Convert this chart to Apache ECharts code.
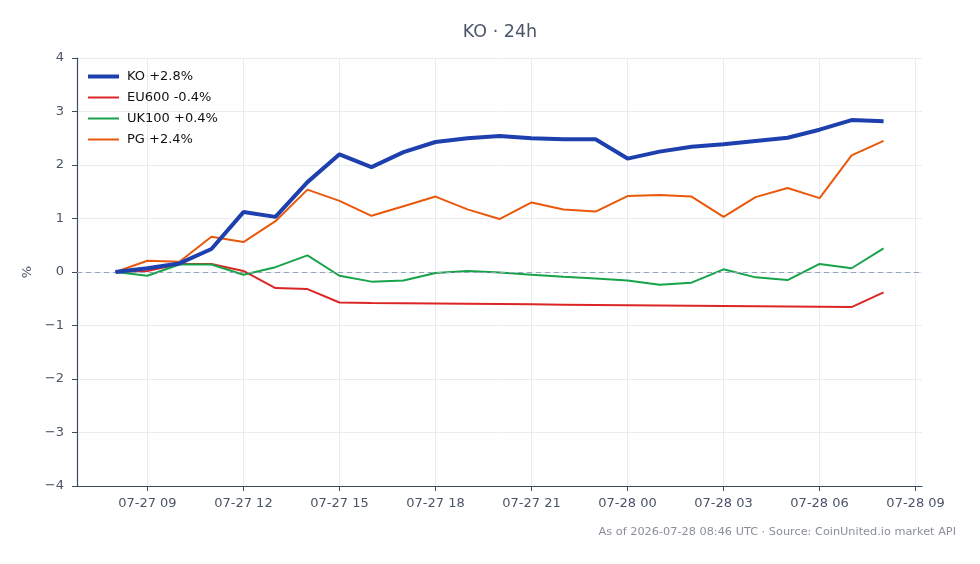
<!DOCTYPE html>
<html>
<head>
<meta charset="utf-8">
<script src="https://cdn.jsdelivr.net/npm/echarts@6/dist/echarts.min.js"></script>
<style>
  html, body { margin: 0; padding: 0; background: #fff; }
  #chart { width: 980px; height: 564px; }
</style>
</head>
<body>
<div id="chart"></div>
<script>
  // hourly points, 07-27 08:00 .. 07-28 08:00 UTC (hours counted from 07-27 00:00)
  const hours = [8, 9, 10, 11, 12, 13, 14, 15, 16, 17, 18, 19, 20, 21, 22, 23, 24, 25, 26, 27, 28, 29, 30, 31, 32];
  const tickHours = [9, 12, 15, 18, 21, 24, 27, 30, 33];

  const ko    = [0, 0.07, 0.16, 0.43, 1.12, 1.03, 1.68, 2.20, 1.96, 2.24, 2.43, 2.50, 2.54, 2.50, 2.48, 2.48, 2.12, 2.25, 2.34, 2.39, 2.45, 2.51, 2.66, 2.84, 2.82];
  const eu600 = [0, 0.02, 0.15, 0.15, 0.02, -0.30, -0.32, -0.57, -0.58, -0.585, -0.59, -0.595, -0.60, -0.605, -0.61, -0.615, -0.62, -0.625, -0.63, -0.635, -0.64, -0.645, -0.65, -0.655, -0.38];
  const uk100 = [0, -0.07, 0.14, 0.14, -0.05, 0.09, 0.31, -0.07, -0.18, -0.16, -0.02, 0.02, -0.01, -0.05, -0.09, -0.12, -0.16, -0.24, -0.20, 0.05, -0.10, -0.15, 0.15, 0.07, 0.44];
  const pg    = [0, 0.21, 0.19, 0.66, 0.56, 0.95, 1.54, 1.33, 1.05, 1.23, 1.41, 1.17, 0.99, 1.30, 1.17, 1.13, 1.42, 1.44, 1.41, 1.03, 1.40, 1.57, 1.38, 2.18, 2.45];

  const names = ['KO +2.8%', 'EU600 -0.4%', 'UK100 +0.4%', 'PG +2.4%'];
  const colors = ['#1e40af', '#dc2626', '#16a34a', '#ea580c'];
  const widths = [4, 2, 2, 2];

  const pairs = function (vals) {
    return hours.map(function (h, i) { return [h, vals[i]]; });
  };
  const pad2 = function (n) { return (n < 10 ? '0' : '') + n; };
  const fmtHour = function (h) {
    const day = 27 + Math.floor(h / 24);
    return '07-' + day + ' ' + pad2(h % 24);
  };

  const chart = echarts.init(document.getElementById('chart'), null, { renderer: 'canvas' });
  const font = 'DejaVu Sans';

  const lineSeries = function (idx, vals, z) {
    return {
      name: names[idx],
      type: 'line',
      data: pairs(vals),
      symbol: 'none',
      z: z,
      color: colors[idx],
      lineStyle: { width: widths[idx], color: colors[idx] },
      emphasis: { disabled: true }
    };
  };

  const ko_series = lineSeries(0, ko, 5);
  ko_series.markLine = {
    silent: true,
    symbol: 'none',
    label: { show: false },
    lineStyle: { type: [5, 4], color: '#94a3b8', width: 1 },
    data: [{ yAxis: 0 }]
  };

  chart.setOption({
    animation: false,
    textStyle: { fontFamily: font },
    grid: { left: 77, right: 58, top: 58, bottom: 78 },
    legend: {
      orient: 'vertical',
      left: 81,
      top: 65,
      itemWidth: 31,
      itemHeight: 14,
      itemGap: 8,
      textStyle: { fontSize: 13, color: '#111', fontFamily: font, padding: [0, 0, 0, 3] },
      data: names.map(function (n, i) {
        return { name: n, itemStyle: { opacity: 0 }, lineStyle: { width: widths[i], color: colors[i] } };
      })
    },
    graphic: [
      {
        type: 'text', x: 500, y: 32,
        style: { text: 'KO · 24h', fill: '#4a5568', font: '17.5px "DejaVu Sans"', align: 'center', verticalAlign: 'middle' }
      },
      {
        type: 'text', right: 24, top: 527,
        style: { text: 'As of 2026-07-28 08:46 UTC · Source: CoinUnited.io market API', fill: '#8a8f98', font: '11.3px "DejaVu Sans"' }
      }
    ],
    xAxis: {
      type: 'value',
      min: 6.8,
      max: 33.2,
      axisLine: { show: true, onZero: false, lineStyle: { color: '#3d4a5c', width: 1.2 } },
      axisTick: { show: true, length: 5, customValues: tickHours, lineStyle: { color: '#3d4a5c' } },
      axisLabel: { customValues: tickHours, formatter: fmtHour, color: '#4a5568', fontSize: 13, margin: 11, fontFamily: font },
      splitLine: { show: true, lineStyle: { color: '#e8ebf0', width: 1 } }
    },
    yAxis: {
      type: 'value',
      min: -4,
      max: 4,
      interval: 1,
      name: '%',
      nameLocation: 'middle',
      nameGap: 37,
      nameTextStyle: { color: '#4a5568', fontSize: 13, fontFamily: font },
      axisLine: { show: true, onZero: false, lineStyle: { color: '#3d4a5c', width: 1.2 } },
      axisTick: { show: true, length: 5, lineStyle: { color: '#3d4a5c' } },
      axisLabel: {
        color: '#4a5568', fontSize: 13, margin: 13, fontFamily: font,
        formatter: function (v) { return v < 0 ? '\u2212' + Math.abs(v) : String(v); }
      },
      splitLine: { show: true, lineStyle: { color: '#e8ebf0', width: 1 } }
    },
    series: [
      ko_series,
      lineSeries(1, eu600, 3),
      lineSeries(2, uk100, 3),
      lineSeries(3, pg, 3)
    ]
  });
</script>
</body>
</html>
